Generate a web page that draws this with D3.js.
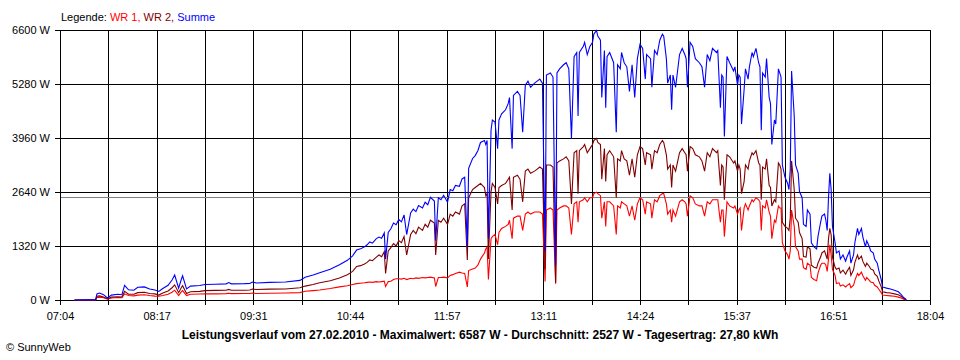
<!DOCTYPE html>
<html><head><meta charset="utf-8">
<script src="https://cdn.jsdelivr.net/npm/d3@7"></script>
<style>
html,body{margin:0;padding:0;background:#fff;}
svg{display:block;font-family:"Liberation Sans",Arial,sans-serif;}
</style></head><body>
<svg id="chart" width="960" height="360"></svg>
<script>
// ---- data ----
const times = [
"07:15","07:31","07:32","07:34","07:37","07:40","07:43","07:48","07:51","07:53","07:56","08:00","08:03","08:08","08:12","08:16","08:19","08:22","08:26","08:29","08:31","08:34","08:36","08:37","08:40","08:43","08:50","08:54","09:02","09:10","09:12","09:14","09:24","09:28","09:30","09:33","09:43","09:55","10:06","10:10","10:16","10:21","10:29","10:36","10:42","10:46","10:49","10:52",
"10:55","10:57","10:59","11:01","11:04","11:06","11:08","11:10","11:11","11:13","11:15","11:17","11:19","11:21","11:23","11:25","11:27","11:30","11:32","11:34","11:36","11:39","11:41","11:43","11:45","11:48","11:49","11:51",
"11:53","11:55","11:58","12:00","12:02","12:04","12:07","12:09","12:11","12:13","12:14","12:17","12:19","12:21","12:23","12:26","12:27","12:28","12:29","12:31","12:32","12:34","12:36","12:37","12:39","12:42","12:44","12:45","12:47","12:48","12:51","12:53","12:55","12:57","12:59","13:01","13:04","13:06","13:08","13:10","13:12","13:13","13:16","13:18","13:20","13:21","13:23","13:26","13:28","13:30","13:32","13:34","13:36","13:37","13:38","13:41","13:42","13:44","13:46",
"13:48","13:49","13:51","13:52","13:54","13:55","13:57","13:58","13:59","14:01","14:04","14:06","14:07","14:09","14:10","14:12","14:14","14:16","14:18","14:20","14:22","14:24","14:26","14:28","14:29","14:32","14:33","14:35","14:37","14:39","14:41","14:42","14:44","14:45","14:47","14:48","14:49","14:51","14:54","14:56","14:58","14:59","15:00","15:02","15:04","15:06","15:09","15:11","15:13","15:15","15:17","15:19","15:22","15:23","15:25","15:26","15:27","15:28","15:30","15:32","15:35","15:36","15:38","15:39",
"15:40","15:41","15:43","15:44","15:46","15:47","15:49","15:50","15:52","15:54","15:55","15:56","15:57","15:59","16:00","16:02","16:03","16:04","16:06","16:07","16:09","16:10","16:11","16:12","16:14","16:16","16:17","16:18","16:19","16:21","16:22","16:24","16:25","16:27","16:28","16:30","16:31","16:33","16:34","16:36","16:38","16:39","16:41","16:42","16:44","16:45","16:46","16:47","16:48","16:49","16:50","16:52","16:53","16:55","16:56","16:58","17:00","17:01","17:03","17:04","17:06","17:07","17:09","17:10","17:12","17:13","17:15","17:16","17:18","17:19","17:21","17:22","17:24","17:25","17:27","17:28","17:31","17:34","17:37","17:40","17:42","17:44","17:46"
];
const wr1 = [
0,0,60,70,55,20,50,60,55,150,110,100,120,130,110,95,90,110,140,190,240,110,200,230,110,140,145,150,150,155,165,155,160,160,170,160,165,170,180,215,230,245,280,320,350,380,400,410,
420,430,440,430,450,440,450,460,330,450,460,500,520,520,510,530,500,530,520,540,530,550,540,550,560,540,330,550,
550,560,540,600,620,650,680,660,650,320,720,760,780,850,1000,1150,1250,1300,500,1500,1550,1600,1350,1650,1750,1800,1850,1950,1500,2000,2050,2050,1700,2100,2150,2100,2150,2150,2150,2100,450,2200,2250,2200,400,2200,2250,2300,2300,2250,1600,2350,2400,1900,2400,2450,2500,2400,2500,
2500,2600,2637,2600,2550,2000,2400,1800,2400,2400,2300,1600,2300,2250,2400,2350,2300,2050,2300,1950,2350,2500,2450,2100,2400,2350,2000,2450,2400,2550,2600,2600,2350,2100,2200,1900,2200,2050,2400,2450,2400,2350,2050,2550,2500,2350,2300,2300,2050,2400,2350,2450,2450,2450,1900,2200,2200,1550,2400,2300,2250,2300,2100,2200,
2250,1700,2250,2350,2200,2300,2450,2400,2500,2450,2400,1700,2300,2250,2450,2150,2050,1500,1950,1900,2300,2250,2250,1400,1200,1100,1000,1200,2200,1800,1300,1200,1000,1000,790,750,900,850,550,500,470,650,850,900,900,850,700,1000,1350,1100,750,600,400,420,340,370,320,350,400,300,360,480,650,600,680,600,480,550,480,440,420,360,320,270,180,120,110,100,90,70,50,20,0
];
const wr2 = [
0,0,90,100,75,30,70,80,75,210,140,140,180,190,160,150,120,170,220,300,370,180,300,350,160,200,210,230,235,240,260,240,240,245,270,255,265,270,300,340,380,420,470,540,620,700,820,840,
880,920,980,960,1050,1100,1060,1180,650,1200,1280,1380,1320,1450,1400,1550,1100,1600,1700,1620,1780,1700,1850,1780,1950,1880,1100,1950,
1900,2000,1850,2100,2050,2150,2100,2300,2350,980,2500,2700,2750,2800,2850,2750,2550,2600,1000,2650,2850,2750,2350,2750,2800,2850,2950,3000,2200,3000,3050,2950,2400,3150,3200,3100,3150,3200,3250,3200,750,3300,3300,3250,420,3350,3400,3450,3500,3400,2350,3600,3650,2600,3650,3750,3800,3600,3700,
3800,3900,3950,3850,3800,2950,3700,2900,3550,3650,3500,2500,3450,3400,3650,3450,3400,3050,3450,3000,3550,3750,3700,3300,3600,3550,3200,3650,3600,3800,3900,3850,3550,3200,3300,2750,3300,3150,3600,3700,3600,3550,3150,3750,3700,3550,3500,3400,3150,3600,3500,3700,3600,3650,2800,3300,3250,2450,3550,3500,3350,3400,3150,3300,
3200,2600,2900,3300,3200,3400,3600,3550,3650,3350,3300,2450,3250,3200,3450,2800,2750,2300,2450,2400,3350,3300,3200,1900,1800,1750,1700,2000,3400,2700,2000,1900,1650,1500,1060,1050,1300,1250,850,800,780,900,1050,1150,1200,1100,1000,1500,1750,1600,1050,800,750,780,660,730,630,700,800,600,740,920,1100,1000,1070,950,820,900,820,760,730,640,580,480,320,200,180,170,150,130,90,40,10
];
const summe = [
0,10,150,170,130,50,120,140,130,360,250,240,310,320,270,245,210,280,360,490,610,290,500,590,270,340,355,380,385,395,425,395,400,405,440,415,430,440,480,555,610,665,750,860,970,1080,1220,1250,
1300,1350,1420,1390,1500,1540,1510,1640,1000,1650,1740,1880,1840,1970,1910,2080,1600,2130,2220,2160,2310,2250,2390,2330,2510,2420,1450,2500,
2450,2560,2390,2700,2670,2800,2780,2960,3000,1300,3220,3460,3530,3650,3850,3900,3800,3900,1500,4150,4400,4350,3700,4400,4550,4650,4800,4950,3700,5000,5100,5000,4100,5250,5350,5200,5300,5350,5400,5300,1200,5500,5550,5450,850,5550,5650,5750,5800,5650,3950,5950,6050,4500,6050,6200,6300,6000,6200,
6300,6500,6587,6450,6350,4950,6100,4700,5950,6050,5800,4100,5750,5650,6050,5800,5700,5100,5750,4950,5900,6250,6150,5400,6000,5900,5200,6100,6000,6350,6500,6450,5900,5300,5500,4650,5500,5200,6000,6150,6000,5900,5200,6300,6200,5900,5800,5700,5200,6000,5850,6150,6050,6100,4700,5500,5450,4000,5950,5800,5600,5700,5250,5500,
5450,4300,5150,5650,5400,5700,6050,5950,6150,5800,5700,4150,5550,5450,5900,4950,4800,3800,4400,4300,5650,5550,5450,3300,3000,2850,2700,3200,5600,4500,3300,3100,2650,2500,1850,1800,2200,2100,1400,1300,1250,1550,1900,2050,2100,1950,1700,2500,3100,2700,1800,1400,1150,1200,1000,1100,950,1050,1200,900,1100,1400,1750,1600,1750,1550,1300,1450,1300,1200,1150,1000,900,750,500,320,290,270,240,200,140,60,10
];
const yTicks = [0, 1320, 2640, 3960, 5280, 6600];
const xTickLabels = ["07:04","08:17","09:31","10:44","11:57","13:11","14:24","15:37","16:51","18:04"];
const seriesNames = ["WR 1", "WR 2", "Summe"];
const seriesColors = ["#ff0000", "#800000", "#0000ff"];
const chartDate = "27.02.2010";
const maxValue = 6587;
const avgValue = 2527;
const dayYield = "27,80";

// ---- chart ----
const svg = d3.select("#chart");
const parse = d3.timeParse("%d.%m.%Y %H:%M");
const toDate = t => parse(chartDate + " " + t);
const t0 = toDate(xTickLabels[0]), t1 = toDate(xTickLabels[xTickLabels.length - 1]);
const x = d3.scaleTime().domain([t0, t1]).range([60, 930]);
const y = d3.scaleLinear().domain([0, 6600]).range([300, 30]);
const px = v => Math.round(v) + 0.5;

const gridTimes = d3.range(19).map(i => new Date(+t0 + i * (t1 - t0) / 18));

// grid
const grid = svg.append("g").attr("shape-rendering", "crispEdges").attr("stroke", "#000").attr("stroke-width", 1);
grid.selectAll("line.v").data(gridTimes).join("line").attr("class", "v")
  .attr("x1", d => px(x(d))).attr("x2", d => px(x(d))).attr("y1", y(6600)).attr("y2", y(0) + 5);
grid.selectAll("line.h").data(yTicks).join("line").attr("class", "h")
  .attr("x1", 55).attr("x2", 931).attr("y1", d => px(y(d))).attr("y2", d => px(y(d)));

// axes (labels)
const yAxis = d3.axisLeft(y).tickValues(yTicks).tickSize(0).tickPadding(10).tickFormat(d => d + " W");
const gy = svg.append("g").attr("transform", "translate(60,0)").call(yAxis);
gy.select(".domain").remove();
gy.selectAll("text").attr("font-size", 11).attr("font-family", "Liberation Sans, Arial, sans-serif").attr("fill", "#000");

const xAxis = d3.axisBottom(x).tickValues(gridTimes).tickSize(0)
  .tickPadding(12).tickFormat((d, i) => i % 2 === 0 ? xTickLabels[i / 2] : "");
const gx = svg.append("g").attr("transform", "translate(0,300)").call(xAxis);
gx.select(".domain").remove();
gx.selectAll("text").attr("font-size", 11).attr("font-family", "Liberation Sans, Arial, sans-serif").attr("fill", "#000");

// average line
svg.append("line").attr("shape-rendering", "crispEdges")
  .attr("x1", 61).attr("x2", 930).attr("y1", px(y(avgValue))).attr("y2", px(y(avgValue)))
  .attr("stroke", "#808080").attr("stroke-width", 1);

// series
const seriesData = [wr1, wr2, summe];
const line = d3.line().x((d, i) => x(toDate(times[i]))).y(d => y(d));
svg.append("g").selectAll("path").data(seriesData).join("path")
  .attr("d", line)
  .attr("fill", "none")
  .attr("stroke", (d, i) => seriesColors[i])
  .attr("stroke-width", 1.1)
  .attr("stroke-linejoin", "miter");

// legend
const leg = svg.append("text").attr("x", 61).attr("y", 21).attr("font-size", 11);
leg.append("tspan").attr("fill", "#000").text("Legende: ");
seriesNames.forEach((n, i) => {
  leg.append("tspan").attr("fill", seriesColors[i]).text(n + (i < seriesNames.length - 1 ? ", " : ""));
});

// title
svg.append("text").attr("x", 480).attr("y", 339).attr("text-anchor", "middle")
  .attr("font-size", 12).attr("font-weight", "bold").attr("fill", "#000")
  .text(`Leistungsverlauf vom ${chartDate} - Maximalwert: ${maxValue} W - Durchschnitt: ${avgValue} W - Tagesertrag: ${dayYield} kWh`);

// copyright
svg.append("text").attr("x", 6).attr("y", 351).attr("font-size", 11).attr("fill", "#000").text("© SunnyWeb");
</script>
</body></html>
